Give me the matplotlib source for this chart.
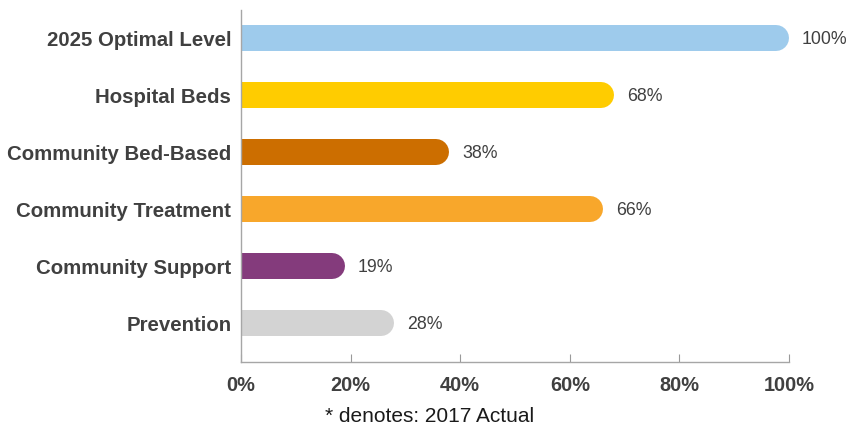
import matplotlib.pyplot as plt
import matplotlib.transforms as mtransforms

plt.rcParams['font.family'] = ['Liberation Sans', 'DejaVu Sans']

categories = ['2025 Optimal Level', 'Hospital Beds', 'Community Bed-Based',
              'Community Treatment', 'Community Support', 'Prevention']
values = [100, 68, 38, 66, 19, 28]
colors = ['#9ECBEC', '#FFCC00', '#CC6E00', '#F8A72B', '#843B7C', '#D3D3D3']
xticks = [0, 20, 40, 60, 80, 100]

fig = plt.figure(figsize=(8.48, 4.28), dpi=100)
ax = fig.add_axes([0.2842, 0.1542, 0.9304 - 0.2842, 0.9766 - 0.1542])

bar_px = 26  # bar thickness in pixels
lw = bar_px * 72 / fig.dpi
# shift lines left by the cap radius so the round cap ends on the value
shift = mtransforms.ScaledTranslation(-bar_px / 2 / fig.dpi, 0, fig.dpi_scale_trans)
label_off = mtransforms.ScaledTranslation(13 / fig.dpi, -1 / fig.dpi, fig.dpi_scale_trans)

for i, (v, c) in enumerate(zip(values, colors)):
    ax.plot([-5, v], [i, i], color=c, lw=lw, solid_capstyle='round',
            transform=ax.transData + shift, clip_on=True)
    ax.text(v, i, f'{v}%', va='center', ha='left', fontsize=12.8,
            color='#404040', transform=ax.transData + label_off)

ax.set_xlim(0, 100)
ax.set_ylim(5.684, -0.491)
ax.set_yticks(range(len(categories)))
ax.set_yticklabels(categories, fontsize=14.7, fontweight='bold', color='#404040')
ax.set_xticks(xticks)
ax.set_xticklabels([f'{t}%' for t in xticks], fontsize=14.4, fontweight='bold',
                   color='#404040')
ax.tick_params(axis='y', length=0, pad=7)
ax.tick_params(axis='x', direction='in', length=6, color='#999999', pad=10)

for s in ['top', 'right']:
    ax.spines[s].set_visible(False)
for s in ['left', 'bottom']:
    ax.spines[s].set_color('#A6A6A6')
    ax.spines[s].set_linewidth(1)

fig.text(0.507, 1 - 416 / 428, '* denotes: 2017 Actual',
         ha='center', va='center', fontsize=15, color='#1A1A1A')

fig.savefig('out.png', dpi=100)
